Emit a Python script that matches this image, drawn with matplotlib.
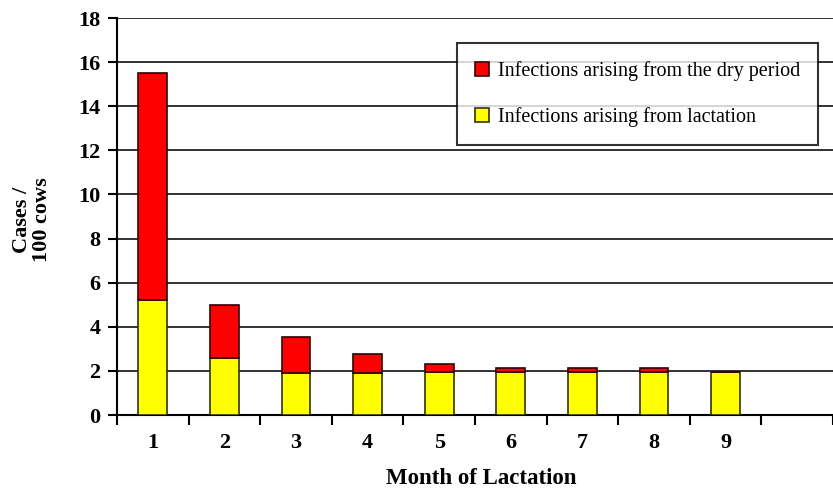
import numpy as np
import matplotlib.pyplot as plt

# data
months = [1, 2, 3, 4, 5, 6, 7, 8, 9]
lactation = [5.2, 2.6, 1.9, 1.9, 1.95, 1.95, 1.95, 1.95, 1.95]
dry_period = [10.3, 2.4, 1.65, 0.85, 0.35, 0.2, 0.2, 0.2, 0.0]

plt.rcParams['font.family'] = ['Liberation Serif', 'DejaVu Serif']

fig = plt.figure(figsize=(8.33, 4.9), dpi=100)
ax = fig.add_axes([117 / 833, 1 - 415 / 490, 1 - 117 / 833, (415 - 18) / 490])

x = np.array(months)
ax.bar(x, lactation, width=0.4, color='#ffff00', edgecolor='#333300', linewidth=1.2,
       label='Infections arising from lactation', zorder=3)
ax.bar(x, dry_period, width=0.4, bottom=lactation, color='#ff0000', edgecolor='#330000',
       linewidth=1.2, label='Infections arising from the dry period', zorder=3)

ax.set_xlim(0.5, 10.34)
ax.set_ylim(0, 18)
ax.set_yticks(np.arange(0, 19, 2))
ax.yaxis.grid(True, color='#222222', linewidth=1.3, zorder=0)
for s in ['top', 'right']:
    ax.spines[s].set_visible(False)
ax.spines['left'].set_linewidth(1.5)
ax.spines['bottom'].set_linewidth(1.5)

# category labels at centres, tick marks between categories
ax.set_xticks(np.arange(0.5, 11, 1))
ax.set_xticklabels([])
ax.tick_params(axis='x', length=7, width=1.5, direction='out')
for m in months:
    ax.text(m, -0.8, str(m), ha='center', va='top', fontsize=16, fontweight='bold')
ax.tick_params(axis='y', length=6.5, width=1.5, labelsize=16, pad=5.5)
for lbl in ax.get_yticklabels():
    lbl.set_fontweight('bold')

fig.text(32 / 833, 1 - 220 / 490, 'Cases /\n100 cows', rotation=90, ha='center', va='center',
         fontsize=16, fontweight='bold', linespacing=1.05)
fig.text(481 / 833, 1 - 478 / 490, 'Month of Lactation', ha='center', va='center',
         fontsize=16.5, fontweight='bold')

h, l = ax.get_legend_handles_labels()
leg = ax.legend(h[::-1], l[::-1], loc='upper right', bbox_to_anchor=((818 - 117) / 716, 1 - 25 / 397),
                fontsize=14.5, frameon=True, fancybox=False, edgecolor='black',
                handlelength=0.65, handleheight=0.65, handletextpad=0.45,
                labelspacing=1.3, borderpad=0.9, borderaxespad=0)
leg.get_frame().set_linewidth(1.5)
leg.set_zorder(5)

fig.savefig('out.png', dpi=100)
